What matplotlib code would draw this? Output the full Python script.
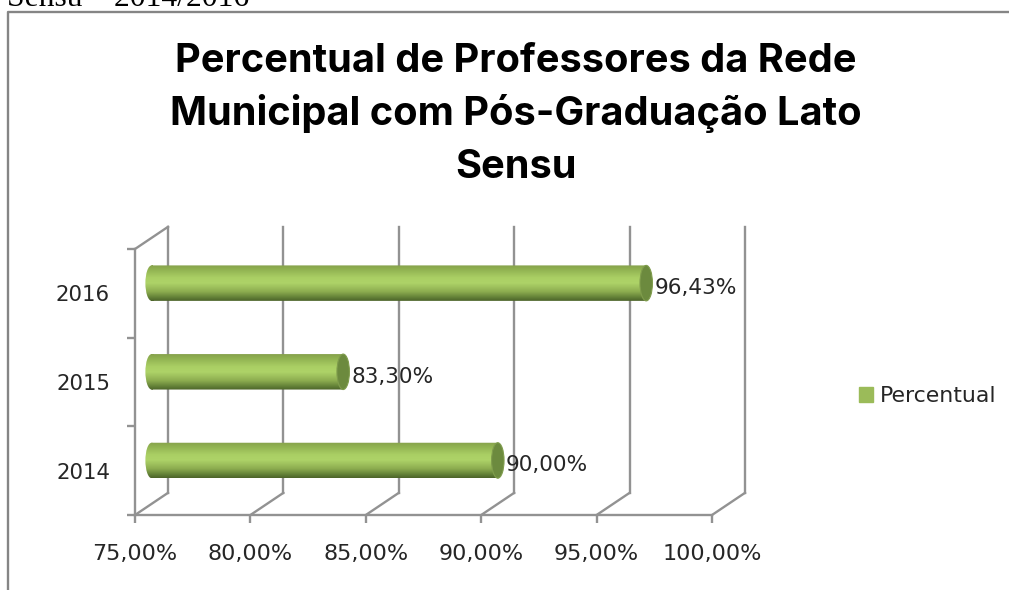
#!/usr/bin/env python3
import numpy as np
import matplotlib
matplotlib.use('Agg')
import matplotlib.pyplot as plt
from matplotlib.colors import LinearSegmentedColormap
from matplotlib.lines import Line2D
from matplotlib.patches import Ellipse, Patch, PathPatch
from matplotlib.path import Path
from matplotlib.transforms import Affine2D

years = ['2014', '2015', '2016']
values = [90.00, 83.30, 96.43]
value_labels = ['90,00%', '83,30%', '96,43%']
x_ticks = [75, 80, 85, 90, 95, 100]
x_tick_labels = ['75,00%', '80,00%', '85,00%', '90,00%', '95,00%', '100,00%']
title_lines = ['Percentual de Professores da Rede',
               'Municipal com Pós-Graduação Lato',
               'Sensu']

W, H = 1009, 590
GREY = '#929292'
TEXT = '#262626'
FS = 16
# 3d look: how far the back wall sits from the front, in data units
DEPTH_X, DEPTH_Y = 1.43, 0.25
BAR_DX, BAR_DY = 0.72, 0.115
BAR_H = 0.40
CAP_W = 0.27

fig = plt.figure(figsize=(W / 100, H / 100), dpi=100)
ax = fig.add_axes([135 / W, 1 - 515 / H, 577 / W, 266 / H])

# clipped line of the document above the chart
fig.text(7 / W, 1 - 6 / H, 'Sensu – 2014/2016', family='Liberation Serif',
         fontsize=22.8, color='black', va='baseline', ha='left')

# outer chart frame, it runs off the picture at right and bottom
fig.add_artist(Line2D([8 / W, 8 / W, 1.0], [0.0, 1 - 12 / H, 1 - 12 / H],
                      color='#858585', lw=1.7))

# title lines one by one, multiline text spaces them unevenly
for line, base in zip(title_lines, [72, 125, 178]):
    fig.text(516 / W, 1 - base / H, line, family='Inter', weight='bold',
             fontsize=28.6, color='black', ha='center', va='baseline')

# back wall and floor
for t in x_ticks:
    ax.plot([t + DEPTH_X, t + DEPTH_X], [DEPTH_Y, 3 + DEPTH_Y], color=GREY,
            lw=1.7, clip_on=False, zorder=1)
    ax.plot([t, t + DEPTH_X], [0, DEPTH_Y], color=GREY, lw=1.7, clip_on=False,
            zorder=1)
ax.plot([75, 75 + DEPTH_X], [3, 3 + DEPTH_Y], color=GREY, lw=1.7, clip_on=False,
        zorder=1)

bar_cmap = LinearSegmentedColormap.from_list('cyl', [
    (0.0, '#86a24c'), (0.10, '#8fb050'), (0.35, '#aacf64'), (0.5, '#aed368'),
    (0.75, '#8bab4f'), (0.92, '#5f7c35'), (1.0, '#4d6529')])
grad = np.linspace(0, 1, 64).reshape(-1, 1)

for i, v in enumerate(values):
    yc = i + 0.5 + BAR_DY
    x0 = 75 + BAR_DX
    x1 = v + BAR_DX
    im = ax.imshow(grad, cmap=bar_cmap, aspect='auto', origin='upper',
                   extent=(x0 - CAP_W, x1 + CAP_W, yc - BAR_H / 2, yc + BAR_H / 2),
                   zorder=3)
    # bar outline = body plus rounded left end
    rect = Path.unit_rectangle().transformed(
        Affine2D().scale(x1 - x0, BAR_H).translate(x0, yc - BAR_H / 2))
    cap = Path.unit_circle().transformed(
        Affine2D().scale(CAP_W, BAR_H / 2).translate(x0, yc))
    clip = PathPatch(Path.make_compound_path(rect, cap), transform=ax.transData,
                     fc='none', ec='none')
    ax.add_patch(clip)
    im.set_clip_path(clip)
    ax.add_patch(Ellipse((x1, yc), CAP_W * 2, BAR_H, fc='#6c8a3e', ec='#7f9c4c',
                         lw=0.8, zorder=4))
    ax.annotate(value_labels[i], (x1 + CAP_W, yc), xytext=(2, -5),
                textcoords='offset pixels', fontsize=FS - 0.4, color=TEXT,
                ha='left', va='center', zorder=5, annotation_clip=False)

ax.set_xlim(75, 100)
ax.set_ylim(0, 3)
ax.patch.set_alpha(0)
for side in ['top', 'right']:
    ax.spines[side].set_visible(False)
for side in ['left', 'bottom']:
    ax.spines[side].set_color(GREY)
    ax.spines[side].set_linewidth(1.7)

ax.set_xticks(x_ticks)
ax.set_xticklabels(x_tick_labels, fontsize=FS, color=TEXT)
ax.tick_params(axis='x', length=5.8, width=1.7, color=GREY, pad=15)
ax.set_yticks([0, 1, 2, 3])
ax.set_yticklabels([])
ax.tick_params(axis='y', which='major', length=5.8, width=1.7, color=GREY)
ax.set_yticks([0.5, 1.5, 2.5], minor=True)
ax.set_yticklabels(years, minor=True, fontsize=15.3, color=TEXT)
ax.tick_params(axis='y', which='minor', length=0, pad=18)

fig.legend(handles=[Patch(color='#9bbb59', label='Percentual')],
           loc='center left', bbox_to_anchor=(852 / W, 1 - 396 / H), frameon=False,
           fontsize=15.8, labelcolor=TEXT, handlelength=0.65, handleheight=0.65,
           handletextpad=0.33, borderpad=0.3, borderaxespad=0)

fig.savefig('out.png', dpi=100)
